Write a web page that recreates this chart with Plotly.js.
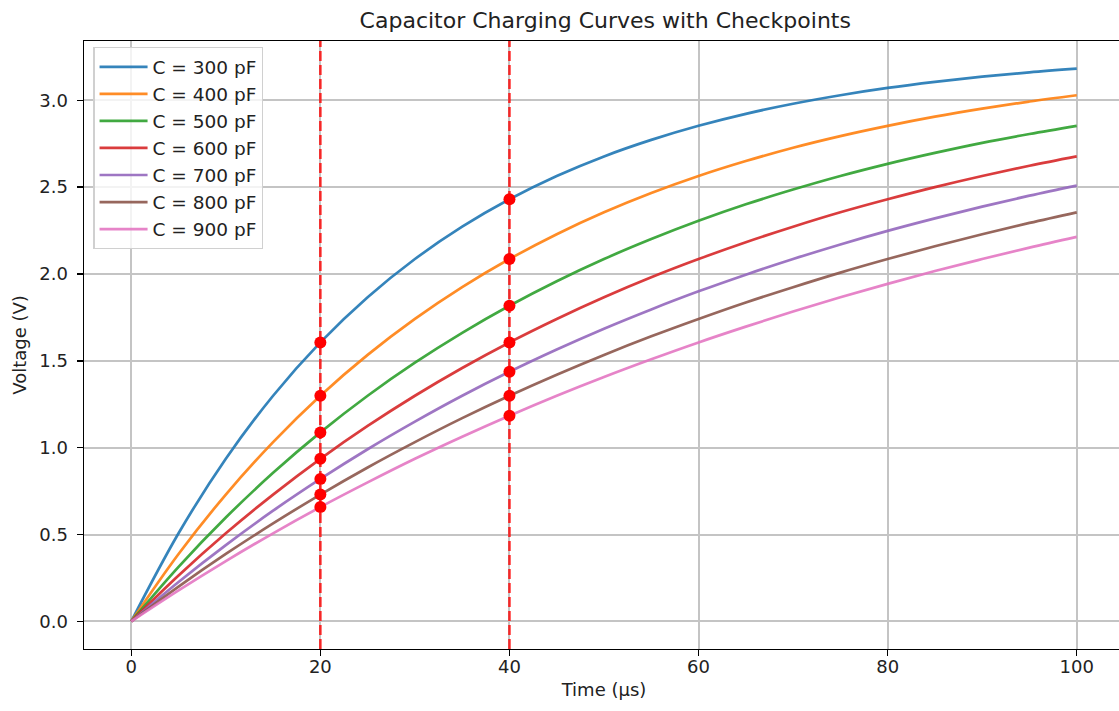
<!DOCTYPE html>
<html>
<head>
<meta charset="utf-8">
<script src="https://cdn.plot.ly/plotly-3.0.1.min.js"></script>
<style>
html,body{margin:0;padding:0;overflow:hidden;background:#fff;}
#chart{width:1124px;height:711px;}
</style>
</head>
<body>
<div id="chart"></div>
<script>
// Time axis (µs)
const timeUs = [0,5,10,15,20,25,30,35,40,45,50,55,60,65,70,75,80,85,90,95,100];
// Capacitance labels
const capLabels = ["C = 300 pF","C = 400 pF","C = 500 pF","C = 600 pF","C = 700 pF","C = 800 pF","C = 900 pF"];
// Voltage series (V)
const v300 = [0,0.507,0.936,1.299,1.606,1.866,2.086,2.272,2.430,2.564,2.677,2.772,2.853,2.922,2.980,3.029,3.071,3.106,3.136,3.161,3.182];
const v400 = [0,0.388,0.730,1.032,1.299,1.534,1.741,1.924,2.086,2.229,2.355,2.466,2.564,2.650,2.727,2.794,2.853,2.906,2.952,2.993,3.029];
const v500 = [0,0.314,0.598,0.855,1.088,1.299,1.489,1.661,1.817,1.958,2.086,2.201,2.306,2.401,2.486,2.564,2.634,2.697,2.755,2.806,2.853];
const v600 = [0,0.264,0.507,0.730,0.936,1.125,1.299,1.459,1.606,1.741,1.866,1.981,2.086,2.183,2.272,2.355,2.430,2.500,2.564,2.623,2.677];
const v700 = [0,0.227,0.439,0.637,0.820,0.991,1.150,1.299,1.437,1.565,1.685,1.796,1.900,1.996,2.086,2.170,2.248,2.320,2.388,2.451,2.509];
const v800 = [0,0.200,0.388,0.564,0.730,0.886,1.032,1.170,1.299,1.420,1.534,1.641,1.741,1.836,1.924,2.008,2.086,2.160,2.229,2.294,2.355];
const v900 = [0,0.178,0.347,0.507,0.658,0.800,0.936,1.063,1.184,1.299,1.407,1.509,1.606,1.697,1.784,1.866,1.943,2.017,2.086,2.152,2.214];
const seriesValues = [v300,v400,v500,v600,v700,v800,v900];
const seriesColors = ["#1f77b4","#ff7f0e","#2ca02c","#d62728","#9467bd","#8c564b","#e377c2"];
// Checkpoint times (µs)
const checkpoints = [20, 40];
// Tick labels
const xTicks = [0,20,40,60,80,100];
const yTicks = [0,0.5,1,1.5,2,2.5,3];
const yTickText = ["0.0","0.5","1.0","1.5","2.0","2.5","3.0"];

const FONT = "DejaVu Sans, Liberation Sans, sans-serif";
const traces = seriesValues.map((vals, i) => ({
  type: "scatter", mode: "lines", x: timeUs, y: vals, name: capLabels[i],
  line: {color: seriesColors[i], width: 2.7, shape: "spline", smoothing: 1},
  opacity: 0.9, hoverinfo: "skip"
}));

const cpX = [], cpY = [];
checkpoints.forEach(tc => {
  const idx = timeUs.indexOf(tc);
  seriesValues.forEach(vals => { cpX.push(tc); cpY.push(vals[idx]); });
});
traces.push({
  type: "scatter", mode: "markers", x: cpX, y: cpY, showlegend: false,
  marker: {color: "#ff0000", size: 12, line: {width: 0}}, hoverinfo: "skip"
});

const shapes = checkpoints.map(tc => ({
  type: "line", xref: "x", yref: "paper", x0: tc, x1: tc, y0: 0, y1: 1,
  line: {color: "rgba(255,0,0,0.8)", width: 2.6, dash: "10px,4px"}, layer: "above"
}));

const axisCommon = {
  showline: true, mirror: true, linecolor: "#000", linewidth: 1.4,
  showgrid: true, gridcolor: "#c4c4c4", gridwidth: 2, zeroline: false,
  ticks: "outside", ticklen: 6, tickwidth: 1.4, tickcolor: "#000",
  tickfont: {family: FONT, size: 18, color: "#222"}
};

const layout = {
  width: 1124, height: 711,
  margin: {l: 84, r: 0, t: 41, b: 62},
  paper_bgcolor: "#fff", plot_bgcolor: "#fff",
  font: {family: FONT, color: "#222"},
  title: {text: "Capacitor Charging Curves with Checkpoints", font: {family: FONT, size: 22, color: "#222"},
          x: 0.5385, xref: "container", xanchor: "center", y: 1 - 20/711, yref: "container", yanchor: "middle"},
  xaxis: Object.assign({}, axisCommon, {
    range: [-5, 105], tickvals: xTicks, ticktext: xTicks.map(String), ticklabelstandoff: -5,
    title: {text: "Time (µs)", font: {family: FONT, size: 18, color: "#222"}, standoff: 7}
  }),
  yaxis: Object.assign({}, axisCommon, {
    range: [-0.1591, 3.3413], tickvals: yTicks, ticktext: yTickText, ticklabelstandoff: 5,
    title: {text: "Voltage (V)", font: {family: FONT, size: 18, color: "#222"}, standoff: 8}
  }),
  shapes: shapes,
  showlegend: true,
  legend: {x: 0.009, y: 0.99, xanchor: "left", yanchor: "top", itemwidth: 48,
           bgcolor: "rgba(255,255,255,0.8)", bordercolor: "#d0d0d0", borderwidth: 1.2,
           font: {family: FONT, size: 18.5, color: "#222"}, tracegroupgap: 0},
  hovermode: false
};

Plotly.newPlot("chart", traces, layout, {displayModeBar: false, staticPlot: true});
</script>
</body>
</html>
